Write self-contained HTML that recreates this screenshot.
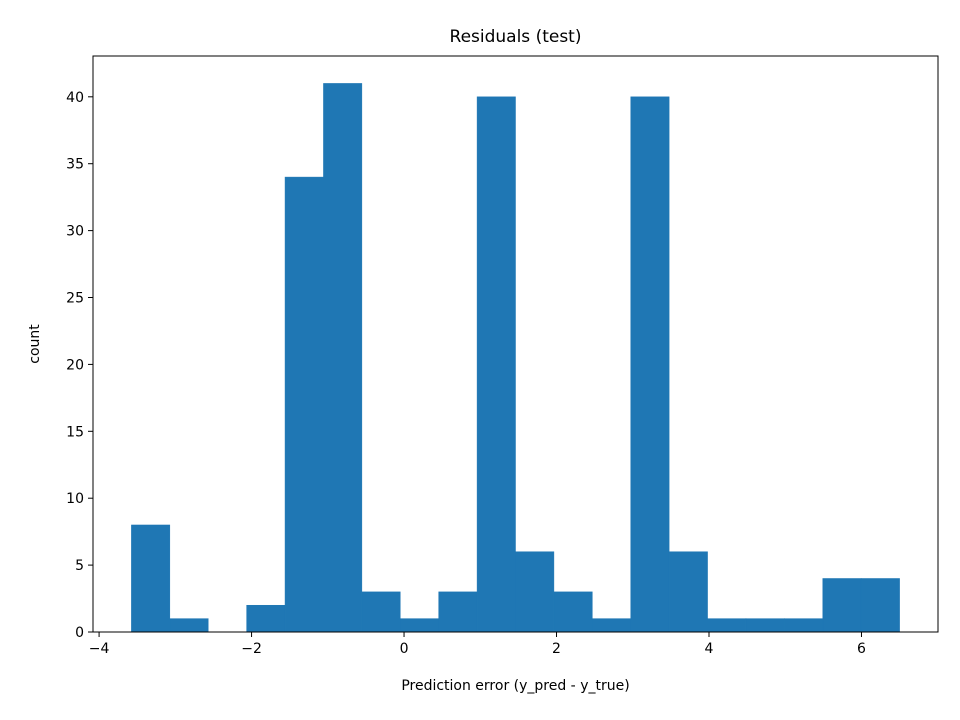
<!DOCTYPE html>
<html><head><meta charset="utf-8"><style>body{margin:0;background:#fff}svg{display:block;font-family:"DejaVu Sans","Liberation Sans",sans-serif}</style></head>
<body>
<svg id="chart" width="960" height="720" viewBox="0 0 960 720" xmlns="http://www.w3.org/2000/svg"></svg>
<script>
const counts = [8,1,0,2,34,41,3,1,3,40,6,3,1,40,6,1,1,1,4,4];
const binStart = -3.576;
const binEnd = 6.50;
const xTicks = [-4,-2,0,2,4,6];
const yTicks = [0,5,10,15,20,25,30,35,40];

const L=93,R=938,T=56,B=632;
const span=binEnd-binStart, xmin=binStart-span*0.05, xmax=binEnd+span*0.05;
const ymax=Math.max(...counts)*1.05;
const X=v=>L+(v-xmin)/(xmax-xmin)*(R-L);
const Y=v=>B-v/ymax*(B-T);
const svg=document.getElementById('chart');
const NS='http://www.w3.org/2000/svg';
function mk(tag,attrs,parent){const e=document.createElementNS(NS,tag);for(const k in attrs)e.setAttribute(k,attrs[k]);(parent||svg).appendChild(e);return e;}

const bars=mk('g',{});


const w=span/counts.length;
counts.forEach((c,i)=>{
  if(c<=0)return;
  const x0=X(binStart+i*w),x1=X(binStart+(i+1)*w);
  const r=mk('rect',{x:x0,y:Y(c),width:x1-x0,height:B-Y(c),fill:'#1f77b4',stroke:'#1f77b4','stroke-width':0.5},bars);
  
  
});

const frame=mk('rect',{x:L,y:T,width:R-L,height:B-T,fill:'none',stroke:'#000','stroke-width':1});



xTicks.forEach(t=>{
  const x=X(t);
  mk('line',{x1:x,x2:x,y1:B,y2:B+5,stroke:'#000'});
  const tx=mk('text',{x:x,y:B+21,'text-anchor':'middle','font-size':14,fill:'#000'});
  tx.textContent=t<0?'\u2212'+(-t):t;
  
  
});
yTicks.forEach(t=>{
  const y=Y(t);
  mk('line',{x1:L-5,x2:L,y1:y,y2:y,stroke:'#000'});
  const tx=mk('text',{x:L-9,y:y+5,'text-anchor':'end','font-size':14,fill:'#000'});
  tx.textContent=t;
  
  
});

const title=mk('text',{x:(L+R)/2,y:42,'text-anchor':'middle','font-size':17,fill:'#000'});
title.textContent='Residuals (test)';



const xl=mk('text',{x:(L+R)/2,y:690,'text-anchor':'middle','font-size':14,fill:'#000'});
xl.textContent='Prediction error (y_pred - y_true)';



const yl=mk('text',{x:0,y:0,'text-anchor':'middle','font-size':14,fill:'#000',transform:'translate(39,'+((T+B)/2)+') rotate(-90)'});
yl.textContent='count';


</script>
</body></html>
